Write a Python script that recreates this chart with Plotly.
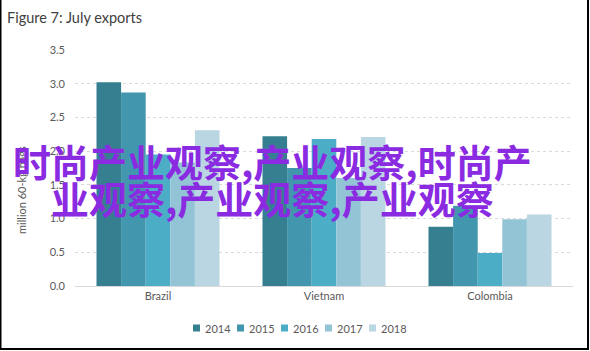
import plotly.graph_objects as go

categories = ["Brazil", "Vietnam", "Colombia"]
years = ["2014", "2015", "2016", "2017", "2018"]
values = {
    "2014": [3.02, 2.22, 0.88],
    "2015": [2.87, 1.75, 1.19],
    "2016": [1.95, 2.18, 0.49],
    "2017": [1.83, 1.60, 0.99],
    "2018": [2.31, 2.21, 1.06],
}
colors = ["#367f91", "#4297ae", "#4badc6", "#93c4d6", "#b9d6e2"]
y_ticks = [0.0, 0.5, 1.0, 1.5, 2.0, 2.5, 3.0, 3.5]
title_text = "Figure 7: July exports"
y_title = "million 60-kg bags"
overlay_lines = ["时尚产业观察,产业观察,时尚产", "业观察,产业观察,产业观察"]

W, H = 590, 351
L, R, T, B = 75, 17, 50, 65
PW, PH = W - L - R, H - T - B

def px(x):
    return (x - L) / PW

def py(y):
    return (H - B - y) / PH

fig = go.Figure()
for yr, c in zip(years, colors):
    fig.add_trace(go.Bar(name=yr, x=categories, y=values[yr], showlegend=False,
                         marker=dict(color=c, line=dict(width=0))))

fig.update_layout(
    width=W, height=H,
    margin=dict(l=L, r=R, t=T, b=B),
    paper_bgcolor="white", plot_bgcolor="white",
    barmode="group", bargap=0.259, bargroupgap=0,
    font=dict(family="Lato, Open Sans, sans-serif", size=11, color="#595959"),
    title=dict(text=title_text, xref="container", x=7 / W, xanchor="left",
               yref="container", y=1 - 18 / H, yanchor="middle",
               font=dict(size=14.5, color="#404040", family="Lato, Open Sans, sans-serif")),
    showlegend=False,
    xaxis=dict(showgrid=False, showline=True, linecolor="#d9d9d9", linewidth=1,
               ticks="", tickfont=dict(size=11, color="#595959")),
    yaxis=dict(range=[0, 3.5], tickvals=y_ticks, ticktext=[f"{v:.1f}" for v in y_ticks],
               showgrid=True, gridcolor="#d9d9d9", griddash="dot", gridwidth=1,
               zeroline=False, showline=False, ticks="", ticklen=0, ticklabelstandoff=9,
               tickfont=dict(size=11, color="#595959")),
)

# y-axis title
fig.add_annotation(text=y_title, xref="paper", yref="paper", x=px(21), y=py(190),
                   xanchor="center", yanchor="middle", textangle=-90, showarrow=False,
                   font=dict(size=11, color="#595959"))

# legend (manual, compact like the reference)
leg_x = [193, 237, 281, 325, 369]
for yr, c, lx in zip(years, colors, leg_x):
    fig.add_shape(type="rect", xref="paper", yref="paper",
                  x0=px(lx), x1=px(lx + 7), y0=py(331.5), y1=py(324.5),
                  line=dict(width=0), fillcolor=c)
    fig.add_annotation(text=yr, xref="paper", yref="paper", x=px(lx + 9.5), y=py(328),
                       xanchor="left", yanchor="middle", showarrow=False,
                       font=dict(size=11, color="#595959"))

# outer frame
fig.add_shape(type="rect", xref="paper", yref="paper",
              x0=px(0.5), x1=px(588), y0=py(349), y1=py(-5),
              line=dict(color="black", width=2), fillcolor="rgba(0,0,0,0)", layer="above")

# overlay text
for line, yc in zip(overlay_lines, [160, 197]):
    fig.add_annotation(text=line, xref="paper", yref="paper", x=px(272), y=py(yc),
                       xanchor="center", yanchor="middle", showarrow=False,
                       font=dict(family="Noto Sans CJK SC", size=38, color="#8a2be2",
                                 weight="bold"))

fig.write_html("out.html")
